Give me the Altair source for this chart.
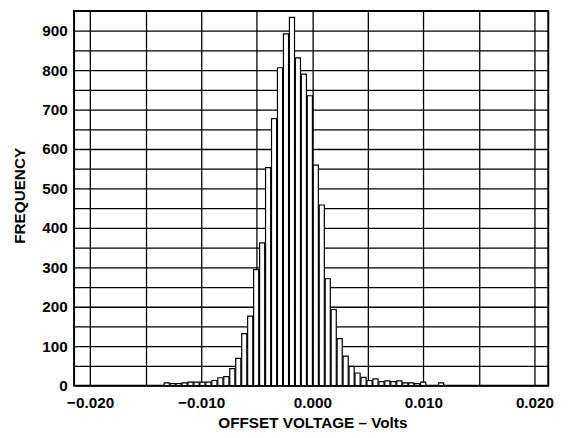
import altair as alt
import pandas as pd

# Histogram counts, one per bin
counts = [7, 5, 5, 7, 9, 9, 9, 9, 13, 20, 23, 43, 69, 132, 176, 294, 362,
          553, 677, 806, 892, 934, 831, 790, 735, 559, 458, 271, 193, 119,
          75, 49, 32, 21, 13, 17, 10, 12, 10, 12, 7, 7, 5, 9, 0, 0, 7]

# Bin left edges in millivolts (bins ~0.537 mV wide, starting at -13.34 mV)
bin_start_mv = [round(-13.34 + 0.537 * i, 3) for i in range(len(counts))]

x_ticks = [-0.020, -0.015, -0.010, -0.005, 0.0, 0.005, 0.010, 0.015, 0.020]
y_ticks = list(range(0, 951, 50))

df = pd.DataFrame({"v0": [b / 1000.0 for b in bin_start_mv], "count": counts})
df = df[df["count"] > 0]

FONT = "Liberation Sans"

chart = (
    alt.Chart(df)
    .transform_calculate(v1="datum.v0 + 0.00046")
    .mark_bar(fill="white", stroke="black", strokeWidth=1.2)
    .encode(
        x=alt.X(
            "v0:Q",
            scale=alt.Scale(domain=[-0.02145, 0.02124], nice=False, zero=False),
            axis=alt.Axis(
                values=x_ticks,
                labelExpr="round(datum.value*1000) % 10 == 0 ? replace(format(datum.value, '.3f'), '-', '\u2013') : ''",
                title="OFFSET VOLTAGE \u2013 Volts",
                grid=True,
                ticks=False,
                tickSize=0,
                domain=False,
                labelPadding=22,
                labelBaseline="alphabetic",
                labelFlush=False,
                labelOverlap=False,
                titleX=241.7,
                titleY=43,
                titleBaseline="alphabetic",
                titleAlign="center",
            ),
        ),
        x2="v1:Q",
        y=alt.Y(
            "count:Q",
            scale=alt.Scale(domain=[0, 950], nice=False),
            axis=alt.Axis(
                values=y_ticks,
                labelExpr="datum.value % 100 == 0 ? datum.label : ''",
                title="FREQUENCY",
                grid=True,
                ticks=False,
                tickSize=0,
                domain=False,
                labelPadding=7,
                labelFlush=False,
                labelOverlap=False,
                titleAngle=270,
                titleX=-50,
                titleY=187,
                titleBaseline="alphabetic",
                titleAlign="center",
            ),
        ),
        y2=alt.datum(0),
    )
    .properties(
        width=481,
        height=380,
        autosize=alt.AutoSizeParams(type="none"),
        padding={"left": 67, "top": 0, "right": 18, "bottom": 42},
    )
    .configure_view(stroke="black", strokeWidth=2)
    .configure_axis(
        gridColor="black",
        gridWidth=1.3,
        gridOpacity=1,
        labelFont=FONT,
        labelFontWeight="bold",
        labelFontSize=15.5,
        labelColor="black",
        titleFont=FONT,
        titleFontWeight="bold",
        titleFontSize=15.5,
        titleColor="black",
    )
)

chart.save("out.html", embed_options={"renderer": "svg", "actions": False})
